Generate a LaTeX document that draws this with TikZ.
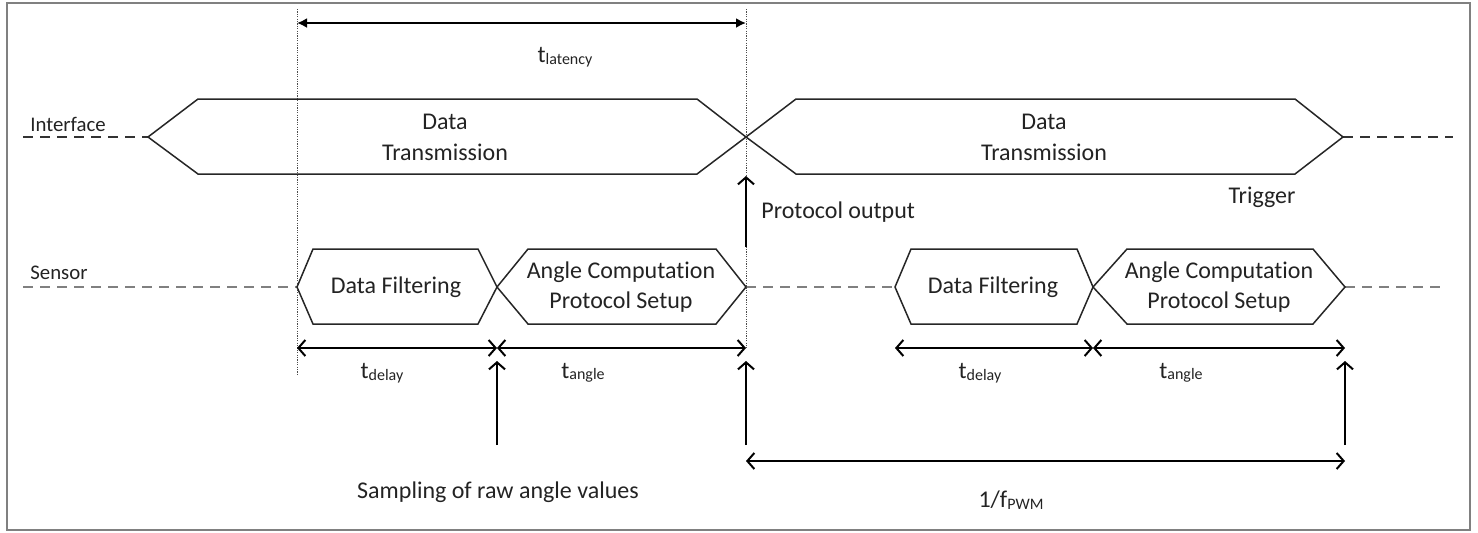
\documentclass[tikz,border=0pt]{standalone}
\usepackage{fontspec}
\setmainfont{Carlito}[Ligatures=NoCommon]
\usetikzlibrary{arrows.meta}
\definecolor{txt}{RGB}{35,35,35}
\definecolor{frm}{RGB}{128,128,128}
\definecolor{sdash}{RGB}{128,128,128}
\newcommand{\tsub}[2]{#1{\fontsize{8}{9}\selectfont\raisebox{-0.7pt}{#2}}}
\begin{document}
\begin{tikzpicture}[x=0.5pt,y=-0.5pt,
  lbl/.style={font=\fontsize{12}{14.4}\selectfont, text=txt, inner sep=0pt, align=center},
  side/.style={font=\fontsize{10.4}{12}\selectfont, text=txt, inner sep=0pt, anchor=west},
  hexa/.style={draw=black!85, line width=0.75pt, line join=miter},
  ifdash/.style={draw=black!80, line width=0.7pt, dash pattern=on 5pt off 3.5pt},
  sdashed/.style={draw=sdash, line width=0.8pt, dash pattern=on 5pt off 3.5pt},
  guide/.style={draw=black!70, line width=0.45pt, dash pattern=on 0.6pt off 0.6pt},
  dim/.style={draw=black, line width=1pt, {Straight Barb[length=3.5pt,width=8pt,line width=1pt]}-{Straight Barb[length=3.5pt,width=8pt,line width=1pt]}},
  upar/.style={draw=black, line width=1pt, -{Straight Barb[length=3.5pt,width=8pt,line width=1pt]}},
  latar/.style={draw=black, line width=1pt, {Latex[length=5pt,width=5pt]}-{Latex[length=5pt,width=5pt]}}
]
\useasboundingbox (0,0) rectangle (1478,532);
\draw[frm, line width=1pt] (7,3) rectangle (1470,530);

% key coordinates
\coordinate (L1) at (297,9);
\coordinate (L1b) at (297,375);
\coordinate (L2) at (746,9);
\coordinate (L2b) at (746,348);
\coordinate (lat1) at (297,23);
\coordinate (lat2) at (746,23);

% guide lines
\draw[guide] (L1) -- (L1b);
\draw[guide] (L2) -- (L2b);

% latency
\draw[latar] (lat1) -- (lat2);
\node[lbl] (tlat) at (565,57) {\tsub{t}{latency}};

% interface row
\node[side] (ifl) at (30,124) {Interface};
\coordinate (if0) at (23,137);
\coordinate (ifA) at (148,137);
\coordinate (ifX) at (746,137);
\coordinate (ifB) at (1343,137);
\coordinate (if9) at (1453,137);
\draw[ifdash] (if0) -- (ifA);
\draw[ifdash] (ifB) -- (if9);
\draw[hexa] (ifA) -- (198,99) -- (697,99) -- (ifX) -- (697,174) -- (198,174) -- cycle;
\draw[hexa] (ifX) -- (796,99) -- (1295,99) -- (ifB) -- (1295,174) -- (796,174) -- cycle;
\node[lbl] (dt1) at (445,137) {Data\\[1pt]Transmission};
\node[lbl] (dt2) at (1044,137) {Data\\[1pt]Transmission};
\node[lbl] (trig) at (1262,197) {Trigger};

% protocol output
\coordinate (po0) at (746,247);
\draw[upar] (po0) -- (746,176);
\node[lbl, anchor=west] (pol) at (761,212) {Protocol output};

% sensor row
\node[side] (snl) at (30,273) {Sensor};
\coordinate (s0) at (23,287);
\coordinate (sA) at (297,287);
\coordinate (sX1) at (497,287);
\coordinate (sB) at (746,287);
\coordinate (sC) at (895,287);
\coordinate (sX2) at (1093,287);
\coordinate (sD) at (1345,287);
\coordinate (s9) at (1442,287);
\draw[sdashed] (s0) -- (sA);
\draw[sdashed] (sB) -- (sC);
\draw[sdashed] (sD) -- (s9);
\draw[hexa] (sA) -- (313,249) -- (478,249) -- (sX1) -- (478,324) -- (313,324) -- cycle;
\draw[hexa] (sX1) -- (528,249) -- (716,249) -- (sB) -- (716,324) -- (528,324) -- cycle;
\draw[hexa] (sC) -- (911,249) -- (1077,249) -- (sX2) -- (1077,324) -- (911,324) -- cycle;
\draw[hexa] (sX2) -- (1127,249) -- (1313,249) -- (sD) -- (1313,324) -- (1127,324) -- cycle;
\node[lbl] (df1) at (396,287) {Data Filtering};
\node[lbl] (ac1) at (621,287) {Angle Computation\\[1pt]Protocol Setup};
\node[lbl] (df2) at (993,287) {Data Filtering};
\node[lbl] (ac2) at (1219,287) {Angle Computation\\[1pt]Protocol Setup};

% timing dimensions
\coordinate (d1) at (297,348);
\coordinate (d2) at (497,348);
\coordinate (d3) at (746,348);
\coordinate (d4) at (895,348);
\coordinate (d5) at (1093,348);
\coordinate (d6) at (1345,348);
\draw[dim] (d1) -- (d2);
\draw[dim] (d2) -- (d3);
\draw[dim] (d4) -- (d5);
\draw[dim] (d5) -- (d6);
\node[lbl] (td1) at (382,373) {\tsub{t}{delay}};
\node[lbl] (ta1) at (583,373) {\tsub{t}{angle}};
\node[lbl] (td2) at (980,373) {\tsub{t}{delay}};
\node[lbl] (ta2) at (1181,373) {\tsub{t}{angle}};

% up arrows
\coordinate (u1b) at (497,445);
\coordinate (u1t) at (497,361);
\coordinate (u2b) at (746,445);
\coordinate (u2t) at (746,361);
\coordinate (u3b) at (1345,445);
\coordinate (u3t) at (1345,361);
\draw[upar] (u1b) -- (u1t);
\draw[upar] (u2b) -- (u2t);
\draw[upar] (u3b) -- (u3t);
\node[lbl] (samp) at (498,492) {Sampling of raw angle values};

% PWM period
\coordinate (p1) at (746,461);
\coordinate (p2) at (1345,461);
\draw[dim] (p1) -- (p2);
\node[lbl] (pwm) at (1011,500) {\tsub{1/f}{PWM}};
\end{tikzpicture}
\end{document}
